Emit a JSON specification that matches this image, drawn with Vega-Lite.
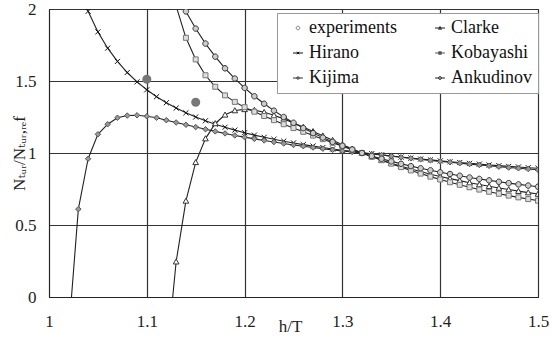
{
"$schema": "https://vega.github.io/schema/vega-lite/v6.json",
"width": 489, "height": 288,
"autosize": {"type": "none"},
"padding": {"left": 49, "top": 9, "right": 15, "bottom": 44},
"background": "white",
"config": {"view": {"stroke": "#333", "strokeWidth": 1}, "font": "Liberation Serif, Times New Roman, DejaVu Serif, serif"},
"datasets": {
"curves": [
{"m":"Hirano","x":1.03,"y":2.168},{"m":"Hirano","x":1.04,"y":1.984},{"m":"Hirano","x":1.05,"y":1.841},{"m":"Hirano","x":1.06,"y":1.728},{"m":"Hirano","x":1.07,"y":1.636},{"m":"Hirano","x":1.08,"y":1.559},{"m":"Hirano","x":1.09,"y":1.494},{"m":"Hirano","x":1.10,"y":1.439},{"m":"Hirano","x":1.11,"y":1.391},{"m":"Hirano","x":1.12,"y":1.349},{"m":"Hirano","x":1.13,"y":1.312},{"m":"Hirano","x":1.14,"y":1.279},{"m":"Hirano","x":1.15,"y":1.250},{"m":"Hirano","x":1.16,"y":1.224},{"m":"Hirano","x":1.17,"y":1.200},{"m":"Hirano","x":1.18,"y":1.179},{"m":"Hirano","x":1.19,"y":1.159},{"m":"Hirano","x":1.20,"y":1.141},{"m":"Hirano","x":1.21,"y":1.124},{"m":"Hirano","x":1.22,"y":1.109},{"m":"Hirano","x":1.23,"y":1.095},{"m":"Hirano","x":1.24,"y":1.082},{"m":"Hirano","x":1.25,"y":1.070},{"m":"Hirano","x":1.26,"y":1.058},{"m":"Hirano","x":1.27,"y":1.048},{"m":"Hirano","x":1.28,"y":1.038},{"m":"Hirano","x":1.29,"y":1.028},{"m":"Hirano","x":1.30,"y":1.019},{"m":"Hirano","x":1.31,"y":1.011},{"m":"Hirano","x":1.32,"y":1.003},{"m":"Hirano","x":1.33,"y":0.995},{"m":"Hirano","x":1.34,"y":0.987},{"m":"Hirano","x":1.35,"y":0.979},{"m":"Hirano","x":1.36,"y":0.972},{"m":"Hirano","x":1.37,"y":0.965},{"m":"Hirano","x":1.38,"y":0.958},{"m":"Hirano","x":1.39,"y":0.952},{"m":"Hirano","x":1.40,"y":0.945},{"m":"Hirano","x":1.41,"y":0.939},{"m":"Hirano","x":1.42,"y":0.934},{"m":"Hirano","x":1.43,"y":0.928},{"m":"Hirano","x":1.44,"y":0.923},{"m":"Hirano","x":1.45,"y":0.917},{"m":"Hirano","x":1.46,"y":0.912},{"m":"Hirano","x":1.47,"y":0.907},{"m":"Hirano","x":1.48,"y":0.903},{"m":"Hirano","x":1.49,"y":0.898},{"m":"Hirano","x":1.50,"y":0.894},
{"m":"Kijima","x":1.02,"y":-0.26},{"m":"Kijima","x":1.03,"y":0.61},{"m":"Kijima","x":1.04,"y":0.96},{"m":"Kijima","x":1.05,"y":1.13},{"m":"Kijima","x":1.06,"y":1.20},{"m":"Kijima","x":1.07,"y":1.245},{"m":"Kijima","x":1.08,"y":1.26},{"m":"Kijima","x":1.09,"y":1.262},{"m":"Kijima","x":1.10,"y":1.255},{"m":"Kijima","x":1.11,"y":1.245},{"m":"Kijima","x":1.12,"y":1.228},{"m":"Kijima","x":1.13,"y":1.212},{"m":"Kijima","x":1.14,"y":1.196},{"m":"Kijima","x":1.15,"y":1.180},{"m":"Kijima","x":1.16,"y":1.165},{"m":"Kijima","x":1.17,"y":1.150},{"m":"Kijima","x":1.18,"y":1.136},{"m":"Kijima","x":1.19,"y":1.122},{"m":"Kijima","x":1.20,"y":1.110},{"m":"Kijima","x":1.21,"y":1.098},{"m":"Kijima","x":1.22,"y":1.087},{"m":"Kijima","x":1.23,"y":1.076},{"m":"Kijima","x":1.24,"y":1.066},{"m":"Kijima","x":1.25,"y":1.056},{"m":"Kijima","x":1.26,"y":1.047},{"m":"Kijima","x":1.27,"y":1.038},{"m":"Kijima","x":1.28,"y":1.030},{"m":"Kijima","x":1.29,"y":1.022},{"m":"Kijima","x":1.30,"y":1.014},{"m":"Kijima","x":1.31,"y":1.007},{"m":"Kijima","x":1.32,"y":1.000},{"m":"Kijima","x":1.33,"y":0.993},{"m":"Kijima","x":1.34,"y":0.986},{"m":"Kijima","x":1.35,"y":0.978},{"m":"Kijima","x":1.36,"y":0.970},{"m":"Kijima","x":1.37,"y":0.963},{"m":"Kijima","x":1.38,"y":0.956},{"m":"Kijima","x":1.39,"y":0.949},{"m":"Kijima","x":1.40,"y":0.942},{"m":"Kijima","x":1.41,"y":0.936},{"m":"Kijima","x":1.42,"y":0.929},{"m":"Kijima","x":1.43,"y":0.923},{"m":"Kijima","x":1.44,"y":0.917},{"m":"Kijima","x":1.45,"y":0.911},{"m":"Kijima","x":1.46,"y":0.905},{"m":"Kijima","x":1.47,"y":0.899},{"m":"Kijima","x":1.48,"y":0.894},{"m":"Kijima","x":1.49,"y":0.889},{"m":"Kijima","x":1.50,"y":0.884},
{"m":"Clarke","x":1.12,"y":-0.455},{"m":"Clarke","x":1.13,"y":0.245},{"m":"Clarke","x":1.14,"y":0.667},{"m":"Clarke","x":1.15,"y":0.935},{"m":"Clarke","x":1.16,"y":1.10},{"m":"Clarke","x":1.17,"y":1.205},{"m":"Clarke","x":1.18,"y":1.265},{"m":"Clarke","x":1.19,"y":1.295},{"m":"Clarke","x":1.20,"y":1.303},{"m":"Clarke","x":1.21,"y":1.298},{"m":"Clarke","x":1.22,"y":1.283},{"m":"Clarke","x":1.23,"y":1.262},{"m":"Clarke","x":1.24,"y":1.237},{"m":"Clarke","x":1.25,"y":1.209},{"m":"Clarke","x":1.26,"y":1.180},{"m":"Clarke","x":1.27,"y":1.150},{"m":"Clarke","x":1.28,"y":1.120},{"m":"Clarke","x":1.29,"y":1.089},{"m":"Clarke","x":1.30,"y":1.058},{"m":"Clarke","x":1.31,"y":1.029},{"m":"Clarke","x":1.32,"y":1.000},{"m":"Clarke","x":1.33,"y":0.975},{"m":"Clarke","x":1.34,"y":0.951},{"m":"Clarke","x":1.35,"y":0.929},{"m":"Clarke","x":1.36,"y":0.908},{"m":"Clarke","x":1.37,"y":0.889},{"m":"Clarke","x":1.38,"y":0.871},{"m":"Clarke","x":1.39,"y":0.853},{"m":"Clarke","x":1.40,"y":0.837},{"m":"Clarke","x":1.41,"y":0.822},{"m":"Clarke","x":1.42,"y":0.808},{"m":"Clarke","x":1.43,"y":0.794},{"m":"Clarke","x":1.44,"y":0.781},{"m":"Clarke","x":1.45,"y":0.769},{"m":"Clarke","x":1.46,"y":0.757},{"m":"Clarke","x":1.47,"y":0.746},{"m":"Clarke","x":1.48,"y":0.735},{"m":"Clarke","x":1.49,"y":0.725},{"m":"Clarke","x":1.50,"y":0.715},
{"m":"Kobayashi","x":1.13,"y":2.02},{"m":"Kobayashi","x":1.14,"y":1.80},{"m":"Kobayashi","x":1.15,"y":1.65},{"m":"Kobayashi","x":1.16,"y":1.54},{"m":"Kobayashi","x":1.17,"y":1.46},{"m":"Kobayashi","x":1.18,"y":1.40},{"m":"Kobayashi","x":1.19,"y":1.355},{"m":"Kobayashi","x":1.20,"y":1.318},{"m":"Kobayashi","x":1.21,"y":1.287},{"m":"Kobayashi","x":1.22,"y":1.257},{"m":"Kobayashi","x":1.23,"y":1.228},{"m":"Kobayashi","x":1.24,"y":1.200},{"m":"Kobayashi","x":1.25,"y":1.173},{"m":"Kobayashi","x":1.26,"y":1.147},{"m":"Kobayashi","x":1.27,"y":1.121},{"m":"Kobayashi","x":1.28,"y":1.096},{"m":"Kobayashi","x":1.29,"y":1.071},{"m":"Kobayashi","x":1.30,"y":1.047},{"m":"Kobayashi","x":1.31,"y":1.023},{"m":"Kobayashi","x":1.32,"y":1.000},{"m":"Kobayashi","x":1.33,"y":0.975},{"m":"Kobayashi","x":1.34,"y":0.950},{"m":"Kobayashi","x":1.35,"y":0.926},{"m":"Kobayashi","x":1.36,"y":0.902},{"m":"Kobayashi","x":1.37,"y":0.879},{"m":"Kobayashi","x":1.38,"y":0.857},{"m":"Kobayashi","x":1.39,"y":0.836},{"m":"Kobayashi","x":1.40,"y":0.816},{"m":"Kobayashi","x":1.41,"y":0.797},{"m":"Kobayashi","x":1.42,"y":0.779},{"m":"Kobayashi","x":1.43,"y":0.762},{"m":"Kobayashi","x":1.44,"y":0.746},{"m":"Kobayashi","x":1.45,"y":0.731},{"m":"Kobayashi","x":1.46,"y":0.717},{"m":"Kobayashi","x":1.47,"y":0.704},{"m":"Kobayashi","x":1.48,"y":0.692},{"m":"Kobayashi","x":1.49,"y":0.680},{"m":"Kobayashi","x":1.50,"y":0.669},
{"m":"Ankudinov","x":1.13,"y":2.122},{"m":"Ankudinov","x":1.14,"y":1.983},{"m":"Ankudinov","x":1.15,"y":1.864},{"m":"Ankudinov","x":1.16,"y":1.760},{"m":"Ankudinov","x":1.17,"y":1.669},{"m":"Ankudinov","x":1.18,"y":1.588},{"m":"Ankudinov","x":1.19,"y":1.517},{"m":"Ankudinov","x":1.20,"y":1.452},{"m":"Ankudinov","x":1.21,"y":1.394},{"m":"Ankudinov","x":1.22,"y":1.342},{"m":"Ankudinov","x":1.23,"y":1.294},{"m":"Ankudinov","x":1.24,"y":1.250},{"m":"Ankudinov","x":1.25,"y":1.210},{"m":"Ankudinov","x":1.26,"y":1.173},{"m":"Ankudinov","x":1.27,"y":1.138},{"m":"Ankudinov","x":1.28,"y":1.107},{"m":"Ankudinov","x":1.29,"y":1.077},{"m":"Ankudinov","x":1.30,"y":1.050},{"m":"Ankudinov","x":1.31,"y":1.024},{"m":"Ankudinov","x":1.32,"y":1.000},{"m":"Ankudinov","x":1.33,"y":0.979},{"m":"Ankudinov","x":1.34,"y":0.960},{"m":"Ankudinov","x":1.35,"y":0.942},{"m":"Ankudinov","x":1.36,"y":0.925},{"m":"Ankudinov","x":1.37,"y":0.909},{"m":"Ankudinov","x":1.38,"y":0.894},{"m":"Ankudinov","x":1.39,"y":0.880},{"m":"Ankudinov","x":1.40,"y":0.866},{"m":"Ankudinov","x":1.41,"y":0.854},{"m":"Ankudinov","x":1.42,"y":0.842},{"m":"Ankudinov","x":1.43,"y":0.830},{"m":"Ankudinov","x":1.44,"y":0.820},{"m":"Ankudinov","x":1.45,"y":0.810},{"m":"Ankudinov","x":1.46,"y":0.800},{"m":"Ankudinov","x":1.47,"y":0.791},{"m":"Ankudinov","x":1.48,"y":0.782},{"m":"Ankudinov","x":1.49,"y":0.774},{"m":"Ankudinov","x":1.50,"y":0.766}
],
"exp": [{"x":1.10,"y":1.512},{"x":1.15,"y":1.352}],
"leg": [{"s":"experiments"},{"s":"Hirano"},{"s":"Kijima"},{"s":"Clarke"},{"s":"Kobayashi"},{"s":"Ankudinov"}]
},
"encoding": {
"x": {"field": "x", "type": "quantitative", "scale": {"domain": [1, 1.5], "nice": false, "zero": false},
 "axis": {"values": [1, 1.1, 1.2, 1.3, 1.4, 1.5], "format": "~g", "title": "h/T", "titleX": 241, "titleY": 29, "titleAlign": "center", "titleBaseline": "middle", "titleFont": "Liberation Serif, Times New Roman, DejaVu Serif, serif", "titleFontSize": 17, "titleFontWeight": "normal", "titleColor": "#222",
  "labelFont": "Liberation Serif, Times New Roman, DejaVu Serif, serif", "labelFontSize": 17, "labelColor": "#222", "labelPadding": 16, "ticks": false, "domainColor": "#222", "grid": true, "gridColor": "#333", "gridWidth": 1.2, "labelFlush": false}},
"y": {"field": "y", "type": "quantitative", "scale": {"domain": [0, 2], "nice": false},
 "axis": {"values": [0, 0.5, 1, 1.5, 2], "format": "~g", "title": "Nₜᵤᵣ/Nₜᵤᵣ,ᵣₑf", "titleX": -30, "titleY": 144, "titleAlign": "center", "titleBaseline": "middle", "titleAngle": -90, "titleFont": "Liberation Serif, Times New Roman, DejaVu Serif, serif", "titleFontSize": 17, "titleFontWeight": "normal", "titleColor": "#222",
  "labelFont": "Liberation Serif, Times New Roman, DejaVu Serif, serif", "labelFontSize": 17, "labelColor": "#222", "labelPadding": 13, "ticks": false, "domainColor": "#222", "grid": true, "gridColor": "#333", "gridWidth": 1.2, "labelFlush": false}}
},
"layer": [
{"data": {"name": "curves"}, "mark": {"type": "line", "stroke": "#222", "strokeWidth": 1.1, "clip": true}, "encoding": {"detail": {"field": "m"}}},
{"data": {"name": "curves"}, "transform": [{"filter": "datum.m == 'Hirano'"}], "mark": {"type": "point", "shape": "M-1,-1L1,1M-1,1L1,-1", "size": 26, "stroke": "#111", "strokeWidth": 1, "filled": false, "opacity": 1, "clip": true}},
{"data": {"name": "curves"}, "transform": [{"filter": "datum.m == 'Kijima'"}], "mark": {"type": "point", "shape": "M0,-1L1,0L0,1L-1,0Z", "size": 30, "fill": "#999", "stroke": "#555", "strokeWidth": 1, "opacity": 1, "clip": true}},
{"data": {"name": "curves"}, "transform": [{"filter": "datum.m == 'Clarke'"}], "mark": {"type": "point", "shape": "M0,-1L1,0.8L-1,0.8Z", "size": 32, "fill": "white", "stroke": "#333", "strokeWidth": 1, "opacity": 1, "clip": true}},
{"data": {"name": "curves"}, "transform": [{"filter": "datum.m == 'Kobayashi'"}], "mark": {"type": "point", "shape": "M-1,-1H1V1H-1Z", "size": 25, "fill": "#ddd", "stroke": "#777", "strokeWidth": 1, "opacity": 1, "clip": true}},
{"data": {"name": "curves"}, "transform": [{"filter": "datum.m == 'Ankudinov'"}], "mark": {"type": "point", "shape": "M-1,0A1,1 0 1,0 1,0A1,1 0 1,0 -1,0", "size": 30, "fill": "#ccc", "stroke": "#333", "strokeWidth": 1, "opacity": 1, "clip": true}},
{"data": {"name": "exp"}, "mark": {"type": "point", "shape": "circle", "size": 50, "filled": true, "fill": "#777", "stroke": "#777", "opacity": 1}},
{"data": {"name": "leg"}, "mark": {"type": "point", "size": 400, "opacity": 0, "strokeWidth": 1, "filled": true},
 "encoding": {"x": {"value": 0}, "y": {"value": 0},
  "shape": {"field": "s", "type": "nominal", "sort": null, "scale": {"domain": ["experiments","Hirano","Kijima","Clarke","Kobayashi","Ankudinov"], "range": [
   "M-0.35,0A0.35,0.35 0 1,0 0.35,0A0.35,0.35 0 1,0 -0.35,0",
   "M-1,0H1M-0.25,-0.25L0.25,0.25M-0.25,0.25L0.25,-0.25",
   "M-1,0H1M0,-0.3L0.3,0L0,0.3L-0.3,0Z",
   "M-1,0H1M0,-0.3L0.3,0.24L-0.3,0.24Z",
   "M-1,0H1M-0.25,-0.25H0.25V0.25H-0.25ZM-0.25,-0.25L0.25,0.25M-0.25,0.25L0.25,-0.25",
   "M-1,0H1M-0.3,0A0.3,0.3 0 1,0 0.3,0A0.3,0.3 0 1,0 -0.3,0"]},
   "legend": {"title": null, "orient": "none", "legendX": 228, "legendY": 4, "columns": 2, "columnPadding": 28, "rowPadding": 7, "padding": 6, "symbolOffset": 6, "fillColor": "white", "strokeColor": "#999", "labelFont": "Liberation Serif, Times New Roman, DejaVu Serif, serif", "labelFontSize": 18, "labelColor": "#111", "labelOffset": 2, "symbolStrokeWidth": 1,
    "encode": {"symbols": {"update": {"opacity": {"value": 1}, "fillOpacity": {"value": 1}, "strokeOpacity": {"value": 1}}}}}},
  "stroke": {"field": "s", "type": "nominal", "scale": {"domain": ["experiments","Hirano","Kijima","Clarke","Kobayashi","Ankudinov"], "range": ["#777","#111","#333","#222","#555","#222"]}},
  "fill": {"field": "s", "type": "nominal", "scale": {"domain": ["experiments","Hirano","Kijima","Clarke","Kobayashi","Ankudinov"], "range": ["#777","transparent","#999","white","#bbb","white"]}}
 }}
]
}
